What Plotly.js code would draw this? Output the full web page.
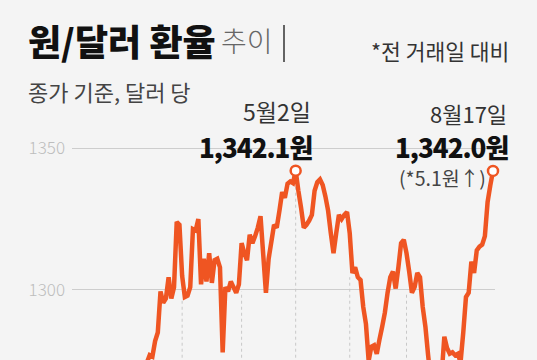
<!DOCTYPE html>
<html><head><meta charset="utf-8">
<script src="https://cdn.plot.ly/plotly-3.0.1.min.js"></script>
<style>html,body{margin:0;padding:0;background:#f4f4f4}#chart{width:537px;height:360px}</style>
</head><body><div id="chart"></div>
<script>
// Trading days (Seoul FX market, 2023) and closing rates (KRW per USD)
const janDays = [2,3,4,5,6,9,10,11,12,13,16,17,18,19,20,25,26,27,30,31];
const janRates = [1272,1271,1263,1270,1268,1254,1245,1243,1240,1244,1236,1241,1237,1237,1235,1236,1231,1230,1232,1231];
const febDays = [1,2,3,6,7,8,9,10,13,14,15,16,17,20,21,22,23,24,27,28];
const febRates = [1231,1220,1227,1252,1253,1262,1260,1274.5,1277,1276.5,1282,1285,1299.5,1295.5,1297,1304.5,1297,1301,1324,1323];
const marDays = [2,3,6,7,8,9,10,13,14,15,16,17,20,21,22,23,24,27,28,29,30,31];
const marRates = [1305,1297.5,1298,1301,1321.5,1321,1325,1302,1311,1303,1313,1302.5,1310.5,1311,1308,1278,1301,1299.5,1303,1301,1299,1302];
const aprDays = [3,4,5,6,7,10,11,12,13,14,17,18,19,20,21,24,25,26,27,28];
const aprRates = [1316.5,1313,1310.5,1319.5,1316.5,1319,1322,1326,1312.5,1299,1311,1317,1323,1322,1328,1334.5,1332.5,1337.5,1338.3,1337.7];
const mayDays = [2,3,4,8,9,10,11,12,15,16,17,18,19,22,23,24,25,26,30,31];
const mayRates = [1342.1,1335,1329,1322,1323,1324.5,1326.5,1335,1338,1339,1337,1333,1328,1320,1313,1320,1326.5,1325,1326.5,1327.5];
const junDays = [1,2,5,7,8,9,12,13,14,15,16,19,20,21,22,23,26,27,28,29,30];
const junRates = [1320,1306,1308,1304.5,1303.5,1294,1288,1275,1280,1280.5,1277.5,1282.5,1287,1292,1299,1304.5,1306.5,1300.5,1308,1316.5,1317.7];
const julDays = [3,4,5,6,7,10,11,12,13,14,17,18,19,20,21,24,25,26,27,28,31];
const julRates = [1313,1306.5,1299,1301,1306,1304.5,1294,1287,1277,1268,1267,1266,1265,1270,1283.5,1279.5,1277.5,1278,1277,1277.5,1274.5];
const augDays = [1,2,3,4,7,8,9,10,11,14,16,17];
const augRates = [1285,1297.5,1299,1310,1306,1314,1315.3,1316,1319,1331,1336.9,1342.0];

// Highlighted points and month drop-lines
const markDates = ['2023-05-02','2023-08-17'];
const dropDates = ['2023-03-02','2023-04-03','2023-05-02','2023-06-01','2023-07-03'];
const dropTops = [1296.5,1299.5,1339.5,1304.5,1299];
const yTicks = [1300,1350];
const yTickText = ['1300','1350'];

const monthTable = [[1,janDays,janRates],[2,febDays,febRates],[3,marDays,marRates],[4,aprDays,aprRates],
  [5,mayDays,mayRates],[6,junDays,junRates],[7,julDays,julRates],[8,augDays,augRates]];
const pad = n => String(n).padStart(2,'0');
const dates = [], rates = [];
monthTable.forEach(([m,days,vals]) => days.forEach((d,i) => { dates.push(`2023-${pad(m)}-${pad(d)}`); rates.push(vals[i]); }));

const ORANGE = '#ef5522';
const BG = '#f4f4f4';
const FONT = "'Noto Sans CJK KR','Noto Sans',sans-serif";
const yRange = [1275.3, 1402.3];
const W = 537, H = 360;
const px = x => x / W, py = y => 1 - y / H;

const traces = [];
dropDates.forEach((d,i) => traces.push({
  x:[d,d], y:[yRange[0]-50, dropTops[i]], type:'scatter', mode:'lines',
  line:{color:'#c8c8c8', width:1, dash:'3px,3px'}, hoverinfo:'skip'
}));
traces.push({x:dates, y:rates, type:'scatter', mode:'lines', line:{color:ORANGE, width:4.5, simplify:false}, hoverinfo:'skip'});
traces.push({x:markDates, y:markDates.map(d => rates[dates.indexOf(d)]), type:'scatter', mode:'markers',
  marker:{size:10, color:'#ffffff', line:{color:ORANGE, width:2.5}}, hoverinfo:'skip', cliponaxis:false});

const ann = (text, x, y, xanchor, size, color, weight) => ({
  text, x:px(x), y:py(y), xref:'paper', yref:'paper', xanchor, yanchor:'middle', showarrow:false,
  font:{family:FONT, size, color, weight: weight || 400}
});
const gap = (x0, x1) => ({type:'rect', layer:'between', xref:'paper', yref:'paper',
  x0:px(x0), x1:px(x1), y0:py(160), y1:py(137), fillcolor:BG, line:{width:0}});

const layout = {
  width:W, height:H, margin:{l:0,r:0,t:0,b:0},
  paper_bgcolor:BG, plot_bgcolor:BG, showlegend:false,
  xaxis:{type:'category', categoryorder:'array', categoryarray:dates,
    domain:[px(72), px(495)], range:[-0.74, dates.length - 1 + 0.74],
    showgrid:false, zeroline:false, showline:false, showticklabels:false, ticks:''},
  yaxis:{domain:[0,1], range:yRange, tickvals:yTicks, ticktext:yTickText, showgrid:true,
    gridcolor:'#cdcdcd', gridwidth:1, zeroline:false, showline:false, ticks:'', ticklabelstandoff:6,
    tickfont:{family:FONT, size:17, color:'#bdbdbd', weight:300}},
  shapes:[
    {type:'line', xref:'paper', yref:'paper', x0:px(284), x1:px(284), y0:py(25), y1:py(62), line:{color:'#333', width:1.5}},
    gap(199, 318), gap(389, 537)
  ],
  annotations:[
    ann('원/달러 환율', 26, 40, 'left', 36, '#111', 900),
    ann('추이', 219, 40, 'left', 28, '#666', 300),
    ann('종가 기준, 달러 당', 26, 91, 'left', 22, '#444'),
    ann('*전 거래일 대비', 511, 51, 'right', 21.5, '#333'),
    ann("<span style='letter-spacing:-1px'>1,342.1원</span>", 314, 146, 'right', 26, '#111', 800),
    ann("<span style='letter-spacing:-1px'>1,342.0원</span>", 510, 146, 'right', 26, '#111', 800),
    ann('5월2일', 313, 111, 'right', 23, '#333'),
    ann('8월17일', 509, 113, 'right', 22, '#333'),
    ann('(*5.1원↑)', 397, 177, 'left', 19.5, '#444')
  ]
};

Plotly.newPlot('chart', traces, layout, {staticPlot:true, displayModeBar:false});
</script></body></html>
